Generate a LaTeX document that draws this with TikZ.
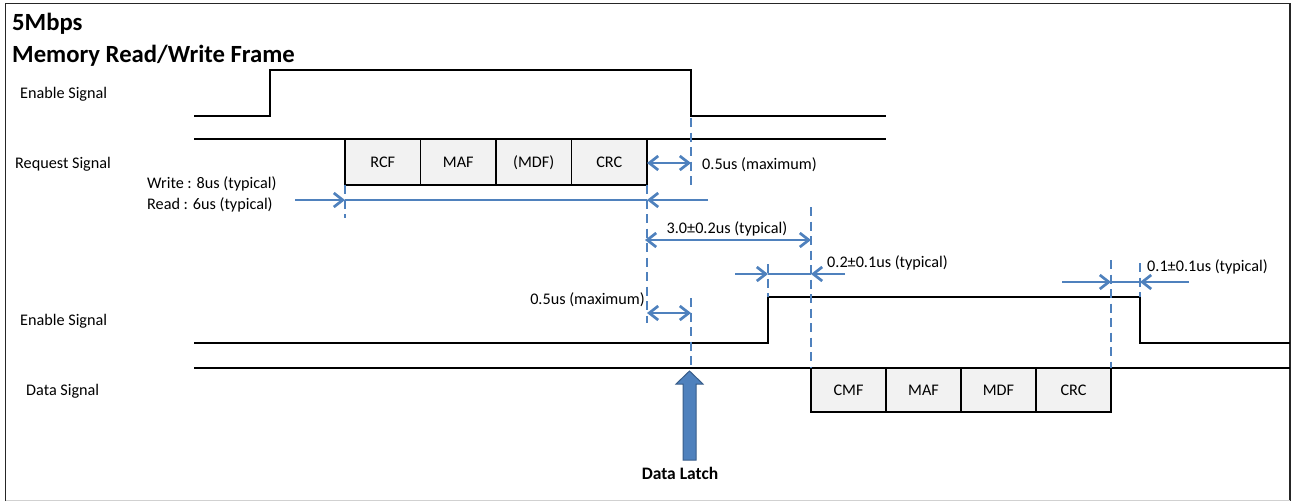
\documentclass[tikz,border=0pt]{standalone}
\usepackage{fontspec}
\setmainfont{Carlito}
\usetikzlibrary{arrows.meta}
\definecolor{dimblue}{RGB}{79,129,189}
\definecolor{latchedge}{RGB}{56,93,138}
\definecolor{fieldgray}{RGB}{242,242,242}
\begin{document}
\begin{tikzpicture}[x=1pt,y=-1pt,
  sig/.style={line width=2.6pt, line join=miter},
  field/.style={draw, line width=1.8pt, fill=fieldgray, minimum width=75.5pt,
    minimum height=46pt, inner sep=0pt, outer sep=0pt, text height=10.5pt, text depth=0pt,
    font=\fontsize{16.2}{19}\selectfont},
  lbl/.style={inner sep=0pt, font=\fontsize{16.2}{19}\selectfont},
  ttl/.style={inner sep=0pt, font=\fontsize{24.7}{29}\selectfont\bfseries},
  guide/.style={dimblue, line width=2.7pt, dash pattern=on 9pt off 5.5pt},
  dim/.style={dimblue, line width=2.7pt},
  tipend/.style={-{Straight Barb[length=9pt,width=14pt]}},
  tipboth/.style={{Straight Barb[length=9pt,width=14pt]}-{Straight Barb[length=9pt,width=14pt]}}]
\useasboundingbox (0,0) rectangle (1291,501);

% outer frame
\draw[line width=1.3pt, black!85] (5.5,501) -- (5.5,3.5) -- (1290,3.5) -- (1290,501);
\draw[line width=1pt, black!18] (5.5,500) -- (1290,500);

% titles and row labels
\node[ttl, anchor=base west] (rate) at (12,30) {5Mbps};
\node[ttl, anchor=base west] (frame) at (12,62) {Memory Read/Write Frame};
\node[lbl, anchor=base west] (en1) at (20,98) {Enable Signal};
\node[lbl, anchor=base west] (req) at (15,168) {Request Signal};
\node[lbl, anchor=base west] (wr) at (147,188.5) {Write : 8us (typical)};
\node[lbl, anchor=base west] (rd) at (147,209) {Read : 6us (typical)};
\node[lbl, anchor=base west] (en2) at (20,325) {Enable Signal};
\node[lbl, anchor=base west] (dat) at (26,395) {Data Signal};

% request side waveforms
\draw[sig] (194,116) -- (270,116) -- (270,70) -- (691,70) -- (691,116) -- (886,116);
\draw[sig] (194,139) -- (886,139);

% request frame fields
\node[field, anchor=north west] (rcf) at (345,139) {RCF};
\node[field, anchor=west] (rmaf) at (rcf.east) {MAF};
\node[field, anchor=west] (rmdf) at (rmaf.east) {(MDF)};
\node[field, anchor=west] (rcrc) at (rmdf.east) {CRC};

% response side waveforms
\draw[sig] (194,343) -- (768,343) -- (768,297) -- (1140,297) -- (1140,343) -- (1290,343);
\draw[sig] (194,368) -- (1290,368);

% response frame fields
\node[field, minimum width=75pt, minimum height=44pt, anchor=north west] (cmf) at (811,368) {CMF};
\node[field, minimum width=75pt, minimum height=44pt, anchor=west] (dmaf) at (cmf.east) {MAF};
\node[field, minimum width=75pt, minimum height=44pt, anchor=west] (dmdf) at (dmaf.east) {MDF};
\node[field, minimum width=75pt, minimum height=44pt, anchor=west] (dcrc) at (dmdf.east) {CRC};

% timing reference lines
\draw[guide] (691,118) -- (691,185);
\draw[guide] (rcf.south west) -- ++(0,33);
\draw[guide] (rcrc.south east) -- ++(0,138);
\draw[guide] (811,207) -- (cmf.north west);
\draw[guide] (691,298) -- (691,370);
\draw[guide] (768,264) -- (768,297);
\draw[guide] (1111,260) -- (dcrc.north east);
\draw[guide] (1140,263) -- (1140,297);

% frame length
\coordinate (fa0) at (295,200);
\coordinate (fa1) at (345,200);
\coordinate (fa2) at (647,200);
\coordinate (fa3) at (708,200);
\draw[dim, tipend] (fa0) -- (fa1);
\draw[dim] (fa1) -- (fa2);
\draw[dim, tipend] (fa3) -- (fa2);

% enable release after CRC
\coordinate (ra0) at (647,163);
\coordinate (ra1) at (691,163);
\draw[dim, tipboth] (ra0) -- (ra1);
\node[lbl, anchor=base west] (rmax) at (702,169) {0.5us (maximum)};

% turnaround
\coordinate (ta0) at (645,240);
\coordinate (ta1) at (811,240);
\draw[dim, tipboth] (ta0) -- (ta1);
\node[lbl, anchor=base] (turn) at (727,233) {3.0±0.2us (typical)};

% enable lead before response
\coordinate (la0) at (735,274);
\coordinate (la1) at (768,274);
\coordinate (la2) at (811,274);
\coordinate (la3) at (845,274);
\draw[dim, tipend] (la0) -- (la1);
\draw[dim] (la1) -- (la2);
\draw[dim, tipend] (la3) -- (la2);
\node[lbl, anchor=base west] (lead) at (827,267) {0.2±0.1us (typical)};

% enable lag after response
\coordinate (ga0) at (1062,282);
\coordinate (ga1) at (1111,282);
\coordinate (ga2) at (1140,282);
\coordinate (ga3) at (1189,282);
\draw[dim, tipend] (ga0) -- (ga1);
\draw[dim] (ga1) -- (ga2);
\draw[dim, tipend] (ga3) -- (ga2);
\node[lbl, anchor=base west] (lag) at (1147,271) {0.1±0.1us (typical)};

% latch delay
\coordinate (da0) at (647,313);
\coordinate (da1) at (691,313);
\draw[dim, tipboth] (da0) -- (da1);
\node[lbl, anchor=base east] (dmax) at (645,304) {0.5us (maximum)};

% data latch marker
\node[inner sep=0pt, anchor=base, font=\fontsize{17.5}{21}\selectfont\bfseries] (latch) at (680,479) {Data Latch};
\coordinate (tip) at (689.5,371);
\draw[latchedge, fill=dimblue, line width=1pt, line join=miter]
  (683,460) -- (683,384) -- (676,384) -- (tip) -- (703,384) -- (696,384) -- (696,460) -- cycle;
\end{tikzpicture}
\end{document}
